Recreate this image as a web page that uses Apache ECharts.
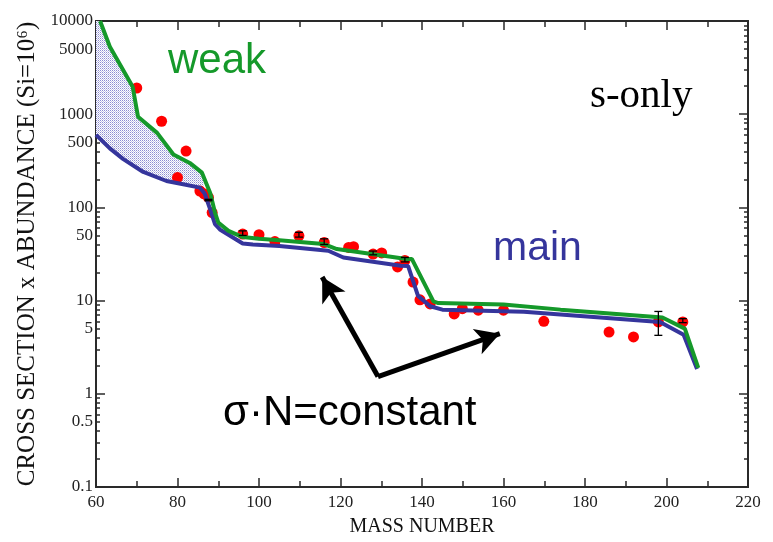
<!DOCTYPE html>
<html>
<head>
<meta charset="utf-8">
<script src="https://cdn.jsdelivr.net/npm/echarts@6/dist/echarts.min.js"></script>
<style>
html, body { margin: 0; padding: 0; background: #fff; }
#chart { width: 773px; height: 542px; }
</style>
</head>
<body>
<div id="chart"></div>
<script>
// weak component (upper, green)
var weakMass  = [61, 63.4, 69, 70.3, 75, 79, 83, 86, 88, 89.2, 90, 92.5, 96, 100, 105, 115.8, 119.1, 136.2, 137.5, 142.8, 144, 160, 174, 199, 204.5, 207.8];
var weakSigma = [10000, 5300, 1970, 940, 630, 370, 300, 236, 144, 88, 69, 56, 48, 46, 44.5, 40.5, 35.7, 28, 28, 9.8, 9.4, 9.1, 8.0, 6.6, 5.0, 1.9];

// main component (lower, blue)
var mainMass  = [60, 63.4, 66.7, 71.6, 77.3, 81.4, 85.5, 86.7, 88, 89.2, 90.4, 96, 98.5, 105, 117, 120.7, 134.8, 136.6, 139, 142, 145, 165, 198.4, 204.2, 207.5];
var mainSigma = [600, 430, 330, 240, 192, 177, 163, 140, 96, 66, 58, 41, 40, 38.5, 34.3, 29, 23.7, 23.5, 11.3, 8.7, 8.0, 7.6, 5.9, 4.3, 1.85];

// measured s-only nuclei (red dots)
var obsMass  = [70.0, 76.1, 82.1, 80.0, 85.5, 86.5, 87.6, 88.5, 96.0, 100.0, 103.9, 109.8, 116.0, 122.0, 123.2, 128.0, 130.1, 134.0, 135.8, 137.8, 139.5, 142.0, 147.9, 149.9, 153.8, 160.0, 169.9, 185.9, 191.9, 198.0, 204.0];
var obsSigma = [1910, 840, 402, 209, 150, 140, 128, 88, 51.7, 51, 43, 49.6, 42, 37.2, 37.9, 31.6, 32.5, 23, 27, 15.8, 10.2, 9.2, 7.2, 8.2, 7.9, 7.9, 6.0, 4.6, 4.07, 5.9, 5.9];

// error bars
var errMass = [87.6, 96.0, 109.8, 116.0, 128.0, 135.8, 198.0, 204.0];
var errLow  = [118, 50, 48, 40, 31, 26, 4.24, 5.8];
var errHigh = [122, 56, 54, 46, 34, 29, 7.65, 6.4];

// shaded weak band ends where the two curves merge
var shadeEnd = 86.7;

// "sigma N = constant" arrows: corner, tip to the left, tip to the right
var arrowCorner = [129.2, 1.53];
var arrowTipA = [115.5, 17.9];
var arrowTipB = [159.1, 4.42];

var yLabelValues = [0.1, 0.5, 1, 5, 10, 50, 100, 500, 1000, 5000, 10000];
var yMajorTicks = [0.1, 1, 10, 100, 1000, 10000];
var yMinorTicks = [];
for (var p = -1; p < 4; p++) {
    for (var m = 2; m <= 9; m++) {
        yMinorTicks.push(Number((m * Math.pow(10, p)).toPrecision(3)));
    }
}

var serif = '"Liberation Serif", "DejaVu Serif", serif';
var sans = '"Liberation Sans", Arial, sans-serif';
var axisColor = '#2a2a2a';

// dotted fill for the weak band
var pat = document.createElement('canvas');
pat.width = 2; pat.height = 2;
var pctx = pat.getContext('2d');
pctx.fillStyle = '#ffffff';
pctx.fillRect(0, 0, 2, 2);
pctx.fillStyle = '#8c8cd2';
pctx.fillRect(0, 0, 1, 1);
pctx.fillStyle = '#c4c4e8';
pctx.fillRect(1, 1, 1, 1);

function zip(xs, ys) {
    var out = [];
    for (var i = 0; i < xs.length; i++) out.push([xs[i], ys[i]]);
    return out;
}

function yAxisBase(pos, ticks, len) {
    return {
        type: 'log', logBase: 10, min: 0.1, max: 10000, position: pos,
        axisLine: { show: true, lineStyle: { color: axisColor, width: 2 } },
        axisTick: { show: true, inside: true, length: len, customValues: ticks,
                    lineStyle: { color: axisColor, width: 1.5 } },
        axisLabel: { show: false },
        splitLine: { show: false }
    };
}

var yLeft = yAxisBase('left', yMinorTicks, 4);
yLeft.axisLabel = {
    show: true, customValues: yLabelValues, margin: 3,
    fontFamily: serif, fontSize: 17, color: '#222',
    formatter: function (v) { return String(Number(Number(v).toPrecision(4))); }
};
yLeft.name = 'CROSS SECTION x ABUNDANCE (Si=10\u2076)';
yLeft.nameLocation = 'middle';
yLeft.nameGap = 48;
yLeft.nameTextStyle = { fontFamily: serif, fontSize: 25, color: '#111' };

var yLeftMajor = yAxisBase('left', yMajorTicks, 9);
var yRight = yAxisBase('right', yMinorTicks, 4);
var yRightMajor = yAxisBase('right', yMajorTicks, 9);

function xAxisBase(pos) {
    return {
        type: 'value', min: 60, max: 220, interval: 20, position: pos,
        axisLine: { show: true, onZero: false, lineStyle: { color: axisColor, width: 2 } },
        axisTick: { show: true, inside: true, length: 9, lineStyle: { color: axisColor, width: 1.5 } },
        minorTick: { show: true, splitNumber: 2, length: 6, lineStyle: { color: axisColor, width: 1.5 } },
        axisLabel: { show: false },
        splitLine: { show: false }
    };
}

var xBottom = xAxisBase('bottom');
xBottom.axisLabel = { show: true, margin: 7, fontFamily: serif, fontSize: 17, color: '#222' };
xBottom.name = 'MASS NUMBER';
xBottom.nameLocation = 'middle';
xBottom.nameGap = 30;
xBottom.nameTextStyle = { fontFamily: serif, fontSize: 20, color: '#111' };
var xTop = xAxisBase('top');

var chart = echarts.init(document.getElementById('chart'), null, { renderer: 'canvas' });

var option = {
    backgroundColor: '#ffffff',
    animation: false,
    grid: { left: 96, top: 21, right: 25, bottom: 53, containLabel: false },
    xAxis: [xBottom, xTop],
    yAxis: [yLeft, yLeftMajor, yRight, yRightMajor],
    series: [
        {
            name: 'band',
            type: 'custom',
            z: 1,
            silent: true,
            data: [[60, 1000]],
            renderItem: function (params, api) {
                var pts = [api.coord([60, 10000])];
                for (var i = 0; i < weakMass.length; i++) {
                    if (weakMass[i] <= shadeEnd) pts.push(api.coord([weakMass[i], weakSigma[i]]));
                }
                for (var j = mainMass.length - 1; j >= 0; j--) {
                    if (mainMass[j] <= shadeEnd) pts.push(api.coord([mainMass[j], mainSigma[j]]));
                }
                return {
                    type: 'polygon',
                    shape: { points: pts },
                    style: { fill: { type: 'pattern', image: pat, repeat: 'repeat' }, stroke: null }
                };
            }
        },
        {
            name: 's-only',
            type: 'scatter',
            z: 2,
            symbol: 'circle',
            symbolSize: 11,
            itemStyle: { color: '#ff0000', opacity: 1 },
            data: zip(obsMass, obsSigma)
        },
        {
            name: 'main',
            type: 'line',
            z: 3,
            symbol: 'none',
            lineStyle: { color: '#35359c', width: 4 },
            data: zip(mainMass, mainSigma)
        },
        {
            name: 'weak',
            type: 'line',
            z: 4,
            symbol: 'none',
            lineStyle: { color: '#15992a', width: 4 },
            data: zip(weakMass, weakSigma)
        },
        {
            name: 'errors',
            type: 'custom',
            z: 5,
            silent: true,
            data: errMass.map(function (x, i) { return [x, errLow[i], errHigh[i]]; }),
            renderItem: function (params, api) {
                var lo = api.coord([api.value(0), api.value(1)]);
                var hi = api.coord([api.value(0), api.value(2)]);
                var w = 4;
                var st = { stroke: '#000', lineWidth: 1.3 };
                return {
                    type: 'group',
                    children: [
                        { type: 'line', shape: { x1: lo[0], y1: lo[1], x2: hi[0], y2: hi[1] }, style: st },
                        { type: 'line', shape: { x1: lo[0] - w, y1: lo[1], x2: lo[0] + w, y2: lo[1] }, style: st },
                        { type: 'line', shape: { x1: hi[0] - w, y1: hi[1], x2: hi[0] + w, y2: hi[1] }, style: st }
                    ]
                };
            }
        },
        {
            name: 'arrows',
            type: 'line',
            z: 6,
            data: [],
            markLine: {
                silent: true,
                symbol: ['none', 'arrow'],
                symbolSize: [20, 24],
                label: { show: false },
                lineStyle: { color: '#000', width: 5, type: 'solid' },
                data: [
                    [{ coord: arrowCorner }, { coord: arrowTipA }],
                    [{ coord: arrowCorner }, { coord: arrowTipB }]
                ]
            }
        }
    ],
    graphic: [
        { type: 'text', left: 168, top: 40, z: 10,
          style: { text: 'weak', font: '42px ' + sans, fill: '#15992a' } },
        { type: 'text', left: 590, top: 76, z: 10,
          style: { text: 's-only', font: '41px ' + serif, fill: '#000' } },
        { type: 'text', left: 493, top: 228, z: 10,
          style: { text: 'main', font: '41px ' + sans, fill: '#35359c' } },
        { type: 'text', left: 223, top: 392, z: 10,
          style: { text: '\u03c3\u00b7N=constant', font: '42px ' + sans, fill: '#000' } }
    ]
};

chart.setOption(option);
</script>
</body>
</html>
